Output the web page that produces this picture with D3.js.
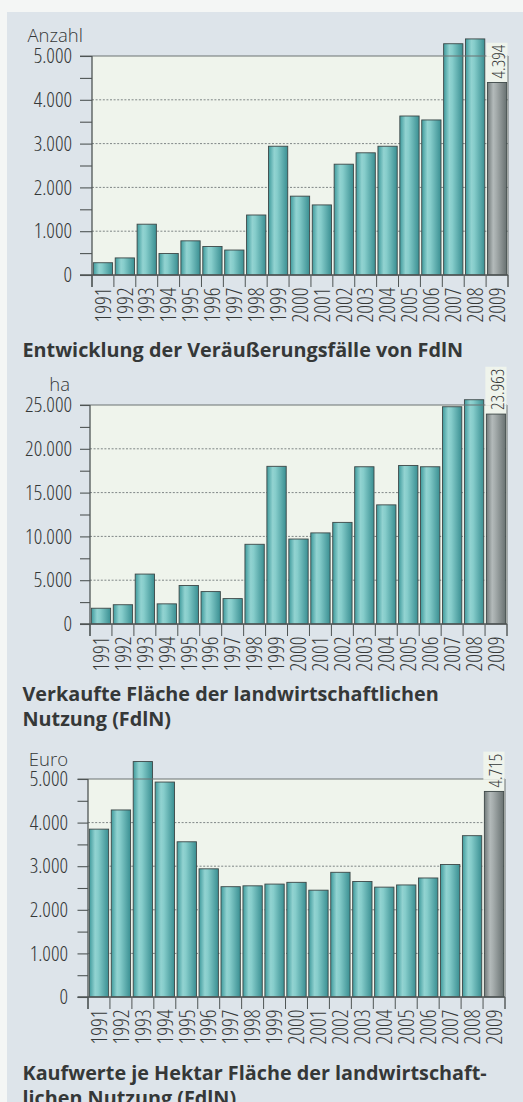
<!DOCTYPE html>
<html>
<head>
<meta charset="utf-8">
<script src="https://cdn.jsdelivr.net/npm/d3@7"></script>
<style>
  body { margin: 0; background: #dde4ea; }
  svg { display: block; }
  text { font-family: "Open Sans", "Noto Sans", sans-serif; fill: #353838; }
  .num { font-stretch: 85%; font-weight: 330; }
  .unit { font-weight: 340; }
</style>
</head>
<body>
<svg id="chart" width="523" height="1102"></svg>
<script>
// ---- data -------------------------------------------------------------
const years = ["1991","1992","1993","1994","1995","1996","1997","1998","1999","2000",
               "2001","2002","2003","2004","2005","2006","2007","2008","2009"];

// Veräußerungsfälle (Anzahl)
const anzahl = [280, 390, 1160, 490, 780, 650, 570, 1370, 2940, 1800,
                1600, 2530, 2790, 2940, 3630, 3540, 5280, 5390, 4394];

// Verkaufte Fläche (ha)
const flaeche = [1800, 2200, 5700, 2300, 4400, 3700, 2900, 9100, 18000, 9700,
                 10400, 11600, 17950, 13600, 18100, 17950, 24800, 25600, 23963];

// Kaufwerte je Hektar (Euro)
const kaufwert = [3850, 4290, 5400, 4930, 3560, 2940, 2530, 2550, 2590, 2630,
                  2450, 2860, 2650, 2520, 2570, 2730, 3040, 3700, 4715];

const anzahlTicks   = [0, 1000, 2000, 3000, 4000, 5000];
const flaecheTicks  = [0, 5000, 10000, 15000, 20000, 25000];
const kaufwertTicks = [0, 1000, 2000, 3000, 4000, 5000];

const units  = ["Anzahl", "ha", "Euro"];
const titles = [
  ["Entwicklung der Veräußerungsfälle von FdlN"],
  ["Verkaufte Fläche der landwirtschaftlichen", "Nutzung (FdlN)"],
  ["Kaufwerte je Hektar Fläche der landwirtschaft-", "lichen Nutzung (FdlN)"]
];

// ---- layout of the three panels ----------------------------------------
const panels = [
  { values: anzahl,   ticks: anzahlTicks,   unit: units[0], title: titles[0],
    left: 92, right: 508, base: 275, top: 56,  labelRight: 72, tickLeft: 80,
    unitX: 27.5, unitAnchor: "start", unitY: 42, titleY: 357 },
  { values: flaeche,  ticks: flaecheTicks,  unit: units[1], title: titles[1],
    left: 90, right: 507, base: 624, top: 405, labelRight: 72, tickLeft: 80,
    unitX: 70, unitAnchor: "end", unitY: 391, titleY: 701 },
  { values: kaufwert, ticks: kaufwertTicks, unit: units[2], title: titles[2],
    left: 88, right: 505, base: 997, top: 779, labelRight: 68, tickLeft: 77.5,
    unitX: 68, unitAnchor: "end", unitY: 765.5, titleY: 1080 }
];

const de = d3.formatLocale({ decimal: ",", thousands: ".", grouping: [3], currency: ["", " €"] });
const fmt = de.format(",d");

const svg = d3.select("#chart");

// paper tone with white margins at top and left
svg.append("rect").attr("width", 523).attr("height", 1102).attr("fill", "#dde4ea");
svg.append("rect").attr("width", 523).attr("height", 12).attr("fill", "#f4f6f5");
svg.append("rect").attr("width", 7).attr("height", 1102).attr("fill", "#f4f6f5");

// cylinder-like shading for the bars
const defs = svg.append("defs");
function shade(id, stops) {
  const g = defs.append("linearGradient").attr("id", id)
    .attr("x1", 0).attr("x2", 1).attr("y1", 0).attr("y2", 0);
  stops.forEach(([o, c]) => g.append("stop").attr("offset", o).attr("stop-color", c));
}
shade("teal", [[0, "#3f9a9c"], [0.3, "#92d3d1"], [0.45, "#86cdcb"], [1, "#3a8f92"]]);
shade("grey", [[0, "#6f7878"], [0.3, "#b3baba"], [0.45, "#a6adad"], [1, "#687171"]]);

const plotBg = "#eff4ec";
const axisCol = "#4f5555";
const fam = '"Open Sans","Noto Sans",sans-serif';

panels.forEach(p => {
  const g = svg.append("g");
  const maxV = p.ticks[p.ticks.length - 1];

  const x = d3.scaleBand().domain(years).range([p.left, p.right])
    .paddingInner(0.12).paddingOuter(0.06);
  const xEdge = d3.scaleBand().domain(years).range([p.left, p.right]);
  const y = d3.scaleLinear().domain([0, maxV]).range([p.base, p.top]);

  const step = p.ticks[1] - p.ticks[0];
  const minor = d3.range(0, maxV + 1, step / 2);

  // plot area
  g.append("rect")
    .attr("x", p.left).attr("y", y(maxV))
    .attr("width", p.right - p.left).attr("height", y(0) - y(maxV))
    .attr("fill", plotBg);

  // dotted grid lines
  g.selectAll(".grid").data(p.ticks.filter(t => t > 0 && t < maxV)).join("line")
    .attr("x1", p.left).attr("x2", p.right)
    .attr("y1", d => y(d)).attr("y2", d => y(d))
    .attr("stroke", "#7f8686").attr("stroke-width", 1)
    .attr("stroke-dasharray", "2,1.6");

  // bars
  g.selectAll(".bar").data(p.values).join("rect")
    .attr("x", (d, i) => x(years[i]))
    .attr("width", x.bandwidth())
    .attr("y", d => y(d))
    .attr("height", d => y(0) - y(d))
    .attr("fill", (d, i) => i === years.length - 1 ? "url(#grey)" : "url(#teal)")
    .attr("stroke", "#3d4747").attr("stroke-width", 0.9);

  // frame: top line and right edge
  g.append("line")
    .attr("x1", p.tickLeft).attr("x2", p.right)
    .attr("y1", y(maxV)).attr("y2", y(maxV))
    .attr("stroke", "#6c7373").attr("stroke-width", 1.2);
  g.append("line")
    .attr("x1", p.right).attr("x2", p.right)
    .attr("y1", y(maxV)).attr("y2", y(0) + 12)
    .attr("stroke", "#6c7373").attr("stroke-width", 1);

  // left axis with minor ticks
  const yAxis = d3.axisLeft(y).tickValues(minor).tickSize(p.left - p.tickLeft)
    .tickSizeOuter(0).tickPadding(p.tickLeft - p.labelRight)
    .tickFormat(d => p.ticks.includes(d) ? fmt(d) : "");
  const ya = g.append("g").attr("transform", `translate(${p.left},0)`).call(yAxis);
  ya.select(".domain").remove();
  ya.selectAll("line").attr("stroke", axisCol).attr("stroke-width", 1.1);
  ya.selectAll("text").attr("class", "num").attr("font-size", 21)
    .attr("fill", "#353838").style("font-family", fam);
  g.append("line")
    .attr("x1", p.left).attr("x2", p.left)
    .attr("y1", y(maxV)).attr("y2", y(0) + 12)
    .attr("stroke", axisCol).attr("stroke-width", 1.3);

  // base line
  g.append("line")
    .attr("x1", p.tickLeft).attr("x2", p.right)
    .attr("y1", y(0)).attr("y2", y(0))
    .attr("stroke", axisCol).attr("stroke-width", 1.3);

  // category separators below the base line
  const edges = years.map(yr => xEdge(yr)).concat([p.right]);
  g.selectAll(".sep").data(edges).join("line")
    .attr("x1", d => d).attr("x2", d => d)
    .attr("y1", y(0)).attr("y2", y(0) + 12)
    .attr("stroke", axisCol).attr("stroke-width", 1);

  // year labels, rotated
  const xa = g.append("g").attr("transform", `translate(0,${y(0)})`)
    .call(d3.axisBottom(x).tickSize(0).tickSizeOuter(0));
  xa.select(".domain").remove();
  xa.selectAll("text")
    .attr("class", "num")
    .attr("transform", "rotate(-90)")
    .attr("x", -12.5).attr("y", 0).attr("dy", "0.36em")
    .attr("text-anchor", "end")
    .attr("font-size", 21.5)
    .attr("fill", "#353838").style("font-family", fam);

  // value label of the last year
  const last = years.length - 1;
  const lv = p.values[last];
  const cx = x(years[last]) + x.bandwidth() / 2 + 1;
  const bgRect = g.append("rect").attr("fill", plotBg);
  const lab = g.append("text")
    .attr("class", "num")
    .attr("transform", `translate(${cx},${y(lv) - 4}) rotate(-90)`)
    .attr("dy", "0.36em").attr("text-anchor", "start")
    .attr("font-size", 18.5)
    .text(fmt(lv));
  const len = lab.node().getComputedTextLength();
  const boxTop = Math.min(y(lv) - 4 - len - 2, y(maxV));
  bgRect.attr("x", x(years[last]) - 1).attr("width", p.right - x(years[last]) + 0.5)
    .attr("y", boxTop).attr("height", Math.max(0, Math.min(y(maxV) + 0.8, y(lv)) - boxTop));

  // unit label
  g.append("text").attr("x", p.unitX).attr("y", p.unitY)
    .attr("class", "unit")
    .attr("text-anchor", p.unitAnchor)
    .attr("font-size", 18.5)
    .text(p.unit);

  // caption
  p.title.forEach((line, i) => {
    g.append("text").attr("x", 22.5).attr("y", p.titleY + i * 25)
      .attr("font-size", 19.8).attr("font-weight", 700)
      .attr("fill", "#2c2f2f")
      .text(line);
  });
});
</script>
</body>
</html>
